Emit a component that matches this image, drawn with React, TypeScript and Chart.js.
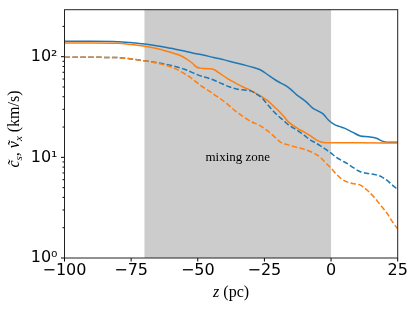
import React, { useEffect, useRef } from 'react';
import { Chart, registerables } from 'chart.js';

Chart.register(...registerables);

// ---- data ----
const blueSolidZ = [-100, -90, -80, -75, -70, -65, -60, -55, -52, -48, -44, -40, -36, -32, -29, -27, -25, -23, -21, -19, -17, -15, -13, -11, -9, -7, -5, -3, -1, 1, 3, 5, 8, 11, 14, 17, 19.5, 22, 25];
const blueSolidV = [142, 142, 141, 138, 134, 128, 121, 114, 109, 104, 98, 93, 87, 82, 78, 75, 70, 64, 59, 55, 51.5, 47, 42, 38.5, 35, 31, 29, 27, 23.5, 21.4, 20.3, 19.5, 17.8, 16.3, 16.0, 15.5, 14.4, 14.1, 14.1];

const orangeSolidZ = [-100, -90, -80, -75, -70, -65, -60, -57, -54, -52, -50.5, -49, -46, -44, -42, -39, -36, -33, -30, -28, -26, -24, -22, -20, -18, -16, -14, -12, -10, -8, -6, -4, -2, 0, 10, 25];
const orangeSolidV = [137, 137, 136, 132, 127, 120, 110, 104, 94, 86, 79, 77, 76, 74.5, 69, 61, 55, 50, 46, 43, 40, 37, 33, 29.5, 26, 22.5, 20.5, 19, 17.8, 16.5, 15.2, 14.3, 14.0, 14, 13.95, 13.9];

const blueDashedZ = [-100, -90, -80, -75, -70, -65, -60, -55, -50, -45, -42, -38, -35, -32, -30, -28, -26, -24, -22, -20, -18, -16, -14, -12, -10, -8, -6, -4, -2, 0, 2, 4, 6, 8, 11, 14, 17, 19, 21, 23, 25];
const blueDashedV = [98.5, 98.5, 98, 95, 91, 87, 82, 75, 66, 60, 55.5, 50, 47.5, 46.5, 45.5, 42.5, 39, 34, 29.5, 26, 23.5, 21, 19.5, 18, 16.5, 15, 14, 13, 12, 11, 10, 9.3, 8.7, 8, 7.2, 6.9, 6.7, 6.4, 5.9, 5.3, 4.8];

const orangeDashedZ = [-100, -90, -80, -75, -70, -65, -60, -55, -52, -49, -46, -42, -39, -36, -33, -30, -27, -24, -21, -19, -16, -13, -10, -7, -4, -2, 0, 2, 4, 6, 8, 11, 14, 16, 18, 21, 23, 25];
const orangeDashedV = [98.5, 98.5, 98, 95, 91, 86, 79, 68, 60, 52, 46, 39, 34, 29, 25.5, 22.6, 20.9, 18.5, 15.8, 14.2, 13.3, 12.6, 12.0, 11.2, 10, 8.8, 7.8, 6.8, 6.1, 5.7, 5.5, 5.3, 4.6, 4.06, 3.5, 2.78, 2.3, 1.94];

const xTicks = [-100, -75, -50, -25, 0, 25];
const yMajorTicks = [1, 10, 100];
const yTickLabels = ['10⁰', '10¹', '10²'];
const yMinorTicks = [2, 3, 4, 5, 6, 7, 8, 9, 20, 30, 40, 50, 60, 70, 80, 90, 200];
const xMin = -100;
const xMax = 25;
const yMin = 1;
const yMax = 293;

const zoneStart = -70;
const zoneEnd = 0;
const zoneLabel = 'mixing zone';
const zoneLabelZ = -35;
const zoneLabelV = 10;

const BLUE = '#1f77b4';
const ORANGE = '#ff7f0e';
const SERIF = '"Liberation Serif", "DejaVu Serif", serif';

const toPts = (zs: number[], vs: number[]) => zs.map((z, i) => ({ x: z, y: vs[i] }));

type Part = { t: string; font: string; dy: number; tilde?: boolean };

function drawParts(ctx: CanvasRenderingContext2D, parts: Part[], cx: number, cy: number, rotate: boolean) {
  ctx.save();
  ctx.translate(cx, cy);
  if (rotate) ctx.rotate(-Math.PI / 2);
  ctx.textBaseline = 'alphabetic';
  ctx.textAlign = 'left';
  ctx.fillStyle = '#000';
  const widths = parts.map((p) => {
    ctx.font = p.font;
    return ctx.measureText(p.t).width;
  });
  const total = widths.reduce((a, b) => a + b, 0);
  let px = -total / 2;
  parts.forEach((p, i) => {
    ctx.font = p.font;
    ctx.fillText(p.t, px, p.dy);
    if (p.tilde) {
      ctx.textAlign = 'center';
      ctx.fillText('˜', px + widths[i] / 2 + 1, p.dy);
      ctx.textAlign = 'left';
    }
    px += widths[i];
  });
  ctx.restore();
}

const decorPlugin = {
  id: 'decor',
  beforeDatasetsDraw(chart: any) {
    const { ctx, chartArea: a, scales } = chart;
    const x = scales.x;
    const y = scales.y;
    ctx.save();
    const x0 = x.getPixelForValue(zoneStart);
    const x1 = x.getPixelForValue(zoneEnd);
    ctx.fillStyle = '#cccccc';
    ctx.fillRect(x0, a.top, x1 - x0, a.bottom - a.top);
    ctx.fillStyle = '#000';
    ctx.font = `13px ${SERIF}`;
    ctx.textAlign = 'center';
    ctx.textBaseline = 'alphabetic';
    ctx.fillText(zoneLabel, x.getPixelForValue(zoneLabelZ), y.getPixelForValue(zoneLabelV) + 4);
    ctx.restore();
  },
  afterDatasetsDraw(chart: any) {
    const { ctx, chartArea: a, scales } = chart;
    const x = scales.x;
    const y = scales.y;
    ctx.save();
    ctx.strokeStyle = '#000';
    ctx.lineWidth = 1;
    ctx.beginPath();
    xTicks.forEach((v) => {
      const px = x.getPixelForValue(v);
      ctx.moveTo(px, a.bottom);
      ctx.lineTo(px, a.bottom + 3.5);
    });
    yMajorTicks.forEach((v) => {
      const py = y.getPixelForValue(v);
      ctx.moveTo(a.left - 3.5, py);
      ctx.lineTo(a.left, py);
    });
    yMinorTicks.forEach((v) => {
      const py = y.getPixelForValue(v);
      ctx.moveTo(a.left - 2, py);
      ctx.lineTo(a.left, py);
    });
    ctx.stroke();
    ctx.strokeStyle = '#222';
    ctx.strokeRect(a.left, a.top, a.right - a.left, a.bottom - a.top);
    ctx.restore();
  },
  afterDraw(chart: any) {
    const { ctx, chartArea: a } = chart;
    const it16 = `italic 16px ${SERIF}`;
    const it11 = `italic 11px ${SERIF}`;
    const up16 = `16px ${SERIF}`;
    drawParts(
      ctx,
      [
        { t: 'z', font: it16, dy: 0 },
        { t: ' (pc)', font: up16, dy: 0 },
      ],
      (a.left + a.right) / 2,
      296.5,
      false
    );
    drawParts(
      ctx,
      [
        { t: 'c', font: it16, dy: 0, tilde: true },
        { t: 's', font: it11, dy: 3 },
        { t: ', ', font: up16, dy: 0 },
        { t: 'v', font: it16, dy: 0, tilde: true },
        { t: 'x', font: it11, dy: 3 },
        { t: ' (km/s)', font: up16, dy: 0 },
      ],
      19,
      129,
      true
    );
  },
};

const isPow10 = (v: number) => Math.abs(Math.log10(v) - Math.round(Math.log10(v))) < 1e-9;

export default function App() {
  const ref = useRef<HTMLCanvasElement | null>(null);
  useEffect(() => {
    document.body.style.margin = '0';
    const canvas = ref.current;
    if (!canvas) return;
    const solid = (zs: number[], vs: number[], color: string, dashed: boolean) => ({
      data: toPts(zs, vs),
      borderColor: color,
      borderWidth: 1.5,
      borderDash: dashed ? [5.5, 2.4] : [],
      pointRadius: 0,
      fill: false,
      cubicInterpolationMode: 'monotone',
    });
    const chart = new Chart(canvas, {
      type: 'line',
      data: {
        datasets: [
          solid(orangeDashedZ, orangeDashedV, ORANGE, true),
          solid(blueDashedZ, blueDashedV, BLUE, true),
          solid(orangeSolidZ, orangeSolidV, ORANGE, false),
          solid(blueSolidZ, blueSolidV, BLUE, false),
        ],
      },
      options: {
        animation: false,
        responsive: false,
        maintainAspectRatio: false,
        layout: { padding: { left: 0, top: 9.7, right: 17.3, bottom: 0 } },
        plugins: { legend: { display: false }, tooltip: { enabled: false } },
        scales: {
          x: {
            type: 'linear',
            min: xMin,
            max: xMax,
            grid: { display: false, drawTicks: false },
            border: { display: false },
            ticks: {
              stepSize: 25,
              autoSkip: false,
              maxRotation: 0,
              padding: 3.5,
              color: '#000',
              font: { family: 'DejaVu Sans', size: 16 },
              callback: (v: any) => (xTicks.includes(Number(v)) ? String(v).replace('-', '−') : ''),
            },
            afterFit: (s: any) => {
              s.height = 51;
              s.paddingLeft = 0;
              s.paddingRight = 0;
            },
          },
          y: {
            type: 'logarithmic',
            min: yMin,
            max: yMax,
            grid: { display: false, drawTicks: false },
            border: { display: false },
            ticks: {
              autoSkip: false,
              padding: 7,
              color: '#000',
              font: { family: 'DejaVu Sans', size: 16 },
              callback: (v: any) => {
                const n = Number(v);
                if (!isPow10(n)) return '';
                const i = yMajorTicks.findIndex((t) => Math.abs(t - n) < 1e-6);
                return i >= 0 ? yTickLabels[i] : '';
              },
            },
            afterFit: (s: any) => {
              s.width = 64.5;
              s.paddingTop = 0;
              s.paddingBottom = 0;
            },
          },
        },
      } as any,
      plugins: [decorPlugin],
    });
    return () => chart.destroy();
  }, []);
  return (
    <div style={{ width: 415, height: 309 }}>
      <canvas ref={ref} width={415} height={309} style={{ display: 'block' }} />
    </div>
  );
}
